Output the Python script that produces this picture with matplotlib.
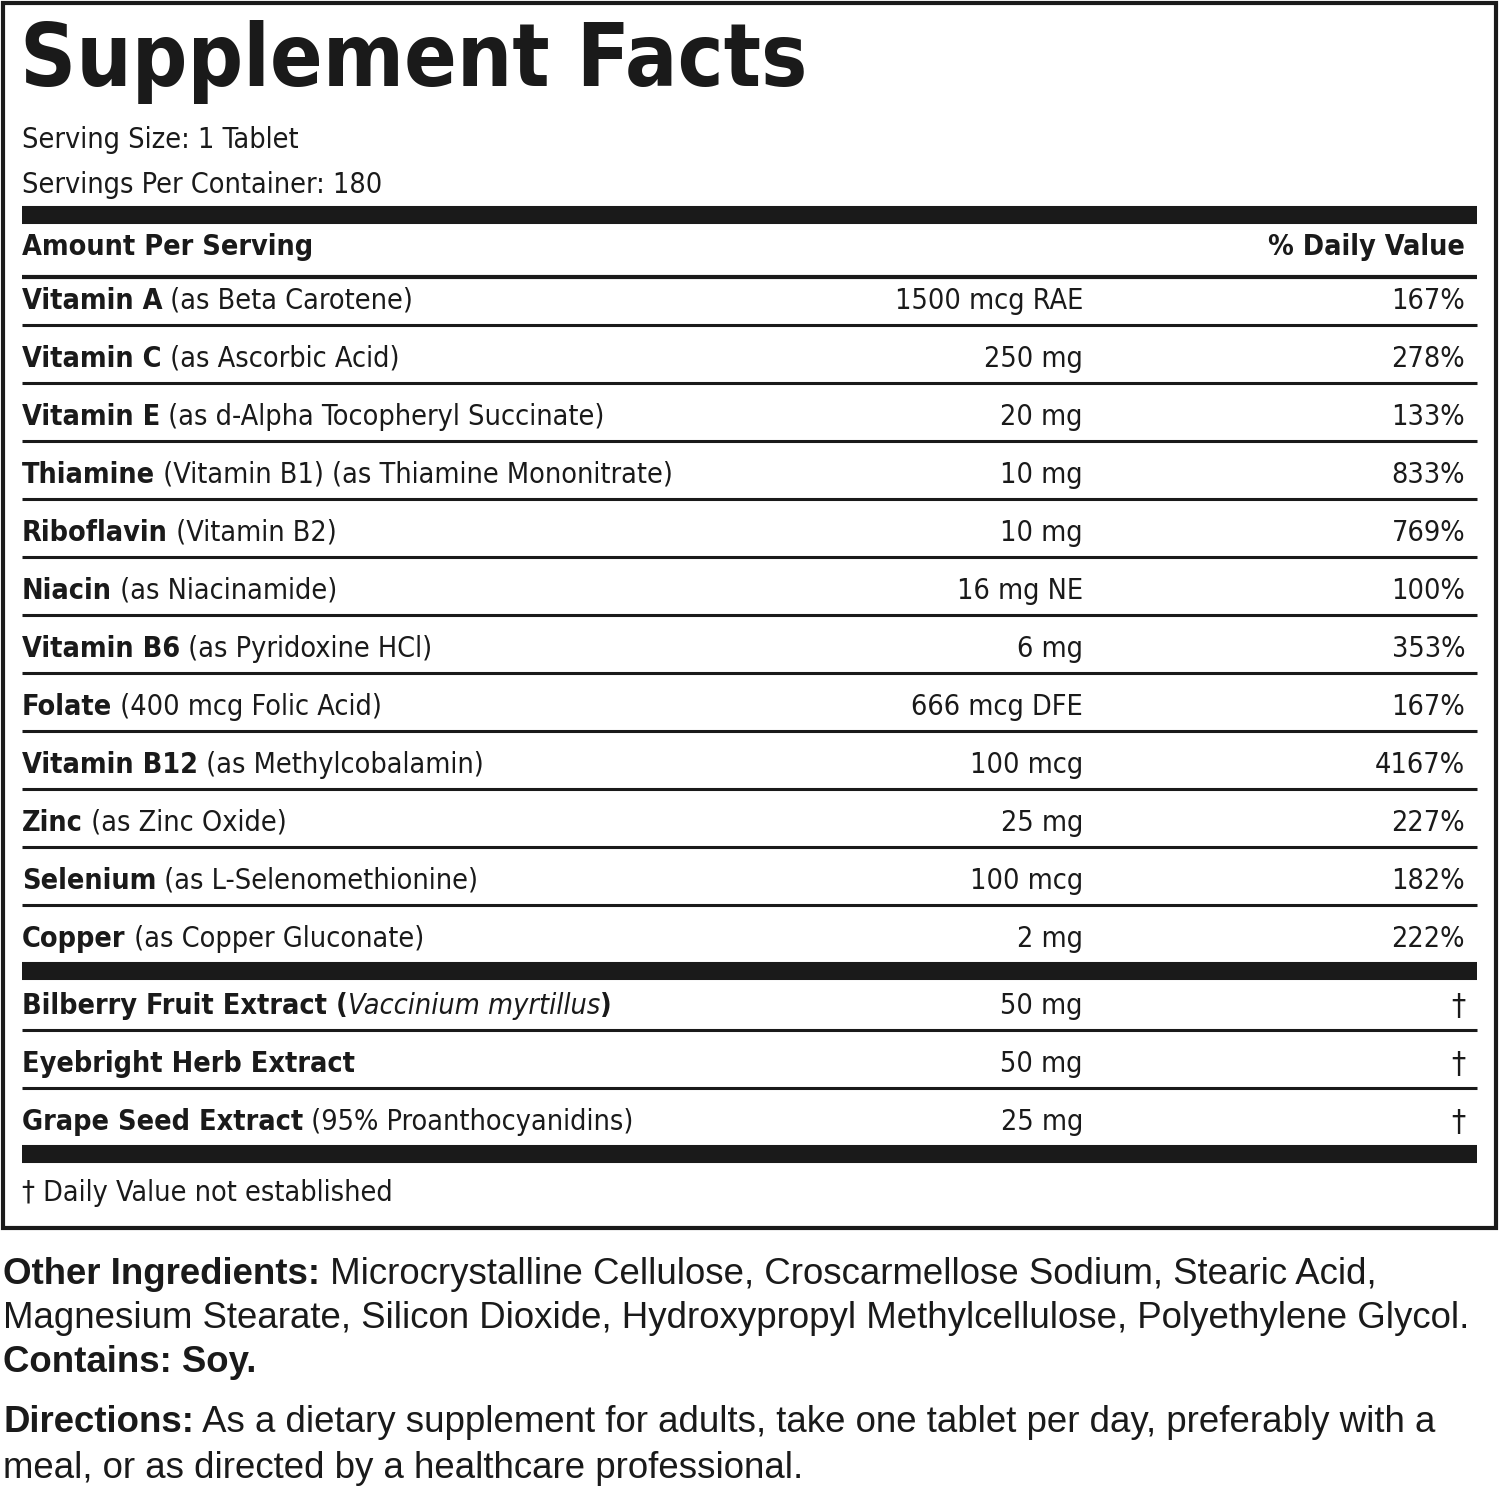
import matplotlib
matplotlib.use("Agg")
import matplotlib.pyplot as plt
from matplotlib import font_manager

W, H = 1500, 1490
cond = any(f.name == "DejaVu Sans" and f.stretch == "condensed" for f in font_manager.fontManager.ttflist)
stretch = "condensed" if cond else "normal"
narrow = ["DejaVu Sans"]
wide = ["Liberation Sans", "DejaVu Sans"]

nutrients = ["Vitamin A", "Vitamin C", "Vitamin E", "Thiamine", "Riboflavin", "Niacin",
             "Vitamin B6", "Folate", "Vitamin B12", "Zinc", "Selenium", "Copper"]
sources = [" (as Beta Carotene)", " (as Ascorbic Acid)", " (as d-Alpha Tocopheryl Succinate)",
           " (Vitamin B1) (as Thiamine Mononitrate)", " (Vitamin B2)", " (as Niacinamide)",
           " (as Pyridoxine HCl)", " (400 mcg Folic Acid)", " (as Methylcobalamin)",
           " (as Zinc Oxide)", " (as L-Selenomethionine)", " (as Copper Gluconate)"]
amounts = ["1500 mcg RAE", "250 mg", "20 mg", "10 mg", "10 mg", "16 mg NE", "6 mg",
           "666 mcg DFE", "100 mcg", "25 mg", "100 mcg", "2 mg"]
dvs = ["167%", "278%", "133%", "833%", "769%", "100%", "353%", "167%", "4167%",
       "227%", "182%", "222%"]
extracts = ["Bilberry Fruit Extract", "Eyebright Herb Extract", "Grape Seed Extract"]
extract_src = [" (Vaccinium myrtillus)", "", " (95% Proanthocyanidins)"]
extract_amt = ["50 mg", "50 mg", "25 mg"]

fig = plt.figure(figsize=(15, 14.9), dpi=100)
ax = fig.add_axes([0, 0, 1, 1])
ax.set_xlim(0, W)
ax.set_ylim(H, 0)
ax.axis("off")
r = fig.canvas.get_renderer()


def width(t, size, family, weight="normal", st="normal"):
    txt = ax.text(0, 0, t, fontsize=size, family=family, fontweight=weight, fontstretch=st)
    w = txt.get_window_extent(r).width
    txt.remove()
    return w


# fit sizes to the widths seen on the label
fs = 24 * 654 / (width("Thiamine", 24, narrow, "bold", stretch) +
                  width(" (Vitamin B1) (as Thiamine Mononitrate)", 24, narrow, "normal", stretch))
fs = max(fs, 20)
tfs = 68 * 788 / width("Supplement Facts", 68, narrow, "black", stretch)
wfs = 23 * 1467 / width("Magnesium Stearate, Silicon Dioxide, Hydroxypropyl Methylcellulose, Polyethylene Glycol.", 23, wide)


def runs(x, y, parts, size, family, st="normal"):
    for t, w, s in parts:
        if not t:
            continue
        txt = ax.text(x, y, t, fontsize=size, fontweight=w, fontstyle=s, fontstretch=st,
                      family=family, va="center", ha="left", color="#1a1a1a")
        bb = txt.get_window_extent(r)
        x = ax.transData.inverted().transform((bb.x1, 0))[0]


def txt(x, y, t, size=None, **kw):
    ax.text(x, y, t, fontsize=size or fs, family=narrow, fontstretch=stretch,
            va="center", color="#1a1a1a", **kw)


def hline(y, lw):
    ax.plot([22, 1477], [y, y], color="#1a1a1a", lw=lw, solid_capstyle="butt")


ax.add_patch(plt.Rectangle((3, 3), 1493, 1225, fill=False, lw=3, ec="#1a1a1a"))

txt(20, 62, "Supplement Facts", size=tfs, fontweight="black")
txt(22, 140, "Serving Size: 1 Tablet")
txt(22, 185, "Servings Per Container: 180")
hline(215, 13)
txt(22, 247, "Amount Per Serving", fontweight="bold")
txt(1465, 247, "% Daily Value", fontweight="bold", ha="right")
hline(277, 3)

row_h = 58
for i, n in enumerate(nutrients):
    y = 301 + i * row_h
    runs(22, y, [(n, "bold", "normal"), (sources[i], "normal", "normal")], fs, narrow, stretch)
    txt(1083, y, amounts[i], ha="right")
    txt(1465, y, dvs[i], ha="right")
    if i < len(nutrients) - 1:
        hline(y + 24, 2.2)
hline(971, 13)

for i, n in enumerate(extracts):
    y = 1006 + i * row_h
    if i == 0:
        runs(22, y, [(n + " (", "bold", "normal"), ("Vaccinium myrtillus", "normal", "italic"),
                     (")", "bold", "normal")], fs, narrow, stretch)
    else:
        runs(22, y, [(n, "bold", "normal"), (extract_src[i], "normal", "normal")], fs, narrow, stretch)
    txt(1083, y, extract_amt[i], ha="right")
    txt(1465, y, "\u2020", size=fs + 2, ha="right")
    if i < len(extracts) - 1:
        hline(y + 24, 2.2)
hline(1154, 13)
txt(22, 1193, "\u2020 Daily Value not established")

runs(3, 1274, [("Other Ingredients:", "bold", "normal"),
               (" Microcrystalline Cellulose, Croscarmellose Sodium, Stearic Acid,", "normal", "normal")], wfs, wide)
runs(3, 1318, [("Magnesium Stearate, Silicon Dioxide, Hydroxypropyl Methylcellulose, Polyethylene Glycol.", "normal", "normal")], wfs, wide)
runs(3, 1362, [("Contains: Soy.", "bold", "normal")], wfs, wide)
runs(3, 1423, [("Directions:", "bold", "normal"),
               (" As a dietary supplement for adults, take one tablet per day, preferably with a", "normal", "normal")], wfs, wide)
runs(3, 1468, [("meal, or as directed by a healthcare professional.", "normal", "normal")], wfs, wide)

fig.savefig("out.png", dpi=100, facecolor="white")
